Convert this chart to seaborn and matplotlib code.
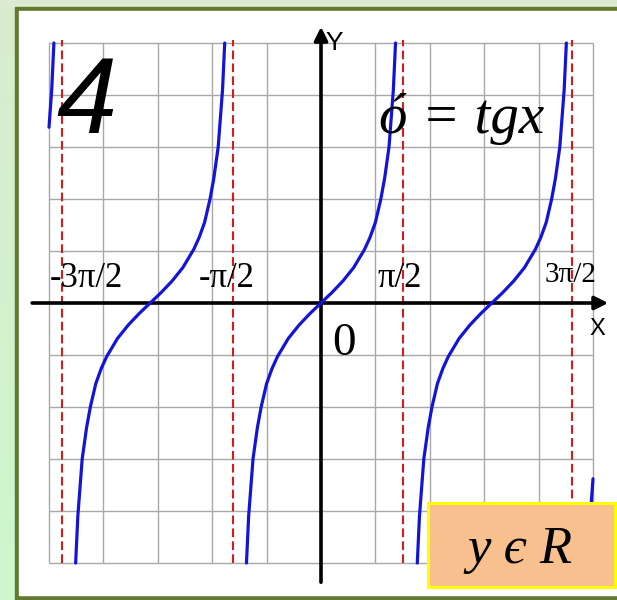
import numpy as np
import pandas as pd
import seaborn as sns
import matplotlib.pyplot as plt
from matplotlib.patches import Rectangle

# middle branch of the curve, x measured from its zero crossing
branch_dx = [-1.37, -1.33, -1.25, -1.17, -1.1, -1.0, -0.9, -0.8, -0.6, -0.4, -0.2, 0.0,
             0.2, 0.4, 0.6, 0.8, 0.9, 1.0, 1.1, 1.17, 1.25, 1.33, 1.37]
branch_y = [-5.0, -4.1, -3.0, -2.4, -2.0, -1.55, -1.26, -1.03, -0.68, -0.42, -0.2, 0.0,
            0.2, 0.42, 0.68, 1.03, 1.26, 1.55, 2.0, 2.4, 3.0, 4.1, 5.0]
branch_centres = [-3.14, 0.0, 3.14]

# bits of the outer branches cut off by the grid edge
left_stub_x = [-5.0, -4.95, -4.91]
left_stub_y = [3.38, 4.1, 5.0]
right_stub_x = [4.91, 4.95, 5.0]
right_stub_y = [-5.0, -4.1, -3.38]

asymptotes = [-4.76, -1.62, 1.51, 4.61]
asym_labels = ['-3π/2', '-π/2', 'π/2', '3π/2']
grid_ticks = list(range(-5, 6))


def main() -> None:
    rows = []
    for i, c in enumerate(branch_centres):
        for dx, y in zip(branch_dx, branch_y):
            rows.append({'x': c + dx, 'y': y, 'branch': i})
    for x, y in zip(left_stub_x, left_stub_y):
        rows.append({'x': x, 'y': y, 'branch': 10})
    for x, y in zip(right_stub_x, right_stub_y):
        rows.append({'x': x, 'y': y, 'branch': 11})
    df = pd.DataFrame(rows)

    sns.set_theme(style='white')
    plt.rcParams['font.family'] = ['Liberation Serif', 'DejaVu Serif']
    plt.rcParams['text.color'] = 'black'

    W, H = 617, 600
    fig = plt.figure(figsize=(W / 100, H / 100), dpi=100)

    # green backdrop and frame
    bg = fig.add_axes([0, 0, 1, 1], zorder=-2)
    top = np.array([218, 235, 208]) / 255
    bot = np.array([204, 247, 204]) / 255
    t = np.linspace(0, 1, 64)[:, None]
    grad = (top * (1 - t) + bot * t)[:, None, :]
    bg.imshow(grad, extent=[0, 1, 0, 1], aspect='auto', origin='upper')
    bg.add_patch(Rectangle((15 / W, 0), 1, (H - 7) / H, color='#617a30'))
    bg.add_patch(Rectangle((19 / W, 5 / H), 1, (H - 16) / H, color='white'))
    bg.set_xlim(0, 1)
    bg.set_ylim(0, 1)
    bg.axis('off')

    ax = fig.add_axes([0, 0, 1, 1], zorder=1)
    ax.set_facecolor('none')
    ax.set_xlim(-321 / 54.4, 296 / 54.4)
    ax.set_ylim(-297 / 52, 303 / 52)
    ax.axis('off')

    ax.vlines(grid_ticks, -5, 5, colors='#a8a8a8', lw=1.0, zorder=1)
    ax.hlines(grid_ticks, -5, 5, colors='#a8a8a8', lw=1.0, zorder=1)

    ax.vlines(asymptotes, -5, 5.06, colors='#d41c1c', lw=1.5,
              linestyles=(0, (4.2, 2.0)), zorder=2)

    # axes with arrows
    ax.annotate('', xy=(5.28, 0), xytext=(-5.31, 0),
                arrowprops=dict(arrowstyle='-|>', lw=2.6, color='black',
                                mutation_scale=20, shrinkA=0, shrinkB=0), zorder=3)
    ax.annotate('', xy=(0, 5.31), xytext=(0, -5.37),
                arrowprops=dict(arrowstyle='-|>', lw=2.6, color='black',
                                mutation_scale=20, shrinkA=0, shrinkB=0), zorder=3)

    sns.lineplot(data=df, x='x', y='y', units='branch', estimator=None, sort=False,
                 color='#1414d8', lw=2.3, ax=ax, zorder=4)
    ax.set_xlabel('')
    ax.set_ylabel('')

    # labels for the asymptotes
    label_x = [-4.31, -1.74, 1.45, 4.58]
    label_y = [0.31, 0.31, 0.31, 0.40]
    label_size = [25, 25, 25, 21]
    for lx, ly, s, txt in zip(label_x, label_y, label_size, asym_labels):
        ax.text(lx, ly, txt, fontsize=s, ha='center', va='baseline', color='black', zorder=5)

    ax.text(0.42, -1.0, '0', fontsize=34, ha='center', va='baseline', color='black', zorder=5)
    ax.text(0.24, 4.87, 'Y', fontsize=19, ha='center', va='baseline', color='black',
            family=['Liberation Sans', 'DejaVu Sans'], zorder=5)
    ax.text(5.08, -0.62, 'X', fontsize=17, ha='center', va='baseline', color='black',
            family=['Liberation Sans', 'DejaVu Sans'], zorder=5)

    ax.text(-4.31, 3.27, '4', fontsize=78, ha='center', va='baseline', style='italic',
            color='black', family=['Liberation Sans', 'DejaVu Sans'], zorder=5)
    ax.text(2.58, 3.27, 'ó = tgx', fontsize=41, ha='center', va='baseline',
            style='italic', color='black', zorder=5)

    ax.add_patch(Rectangle((1.97, -5.46), 3.43, 1.61, facecolor='#f8c08f',
                           edgecolor='#ffff00', lw=2.2, zorder=6))
    ax.text(3.66, -5.0, 'y є R', fontsize=38, ha='center', va='baseline',
            style='italic', color='black', zorder=7)

    fig.savefig('out.png', dpi=100)


if __name__ == "__main__":
    main()
